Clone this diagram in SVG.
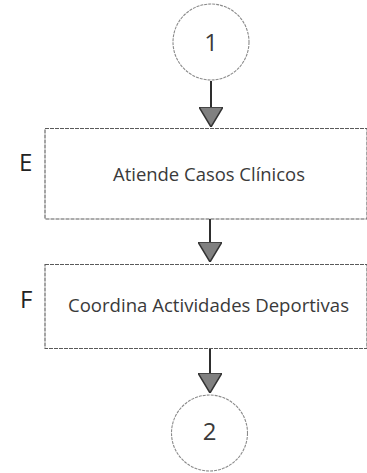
<svg xmlns="http://www.w3.org/2000/svg" width="367" height="473" viewBox="0 0 367 473">
<defs>
<style>
.bg{fill:#ffffff}
.conn{fill:none;stroke:#2e2e2e;stroke-width:2}
.circle{fill:#ffffff;stroke:#8a8a8a;stroke-width:1.1;stroke-dasharray:3 1}
.box{fill:#ffffff;stroke:#5a5a5a;stroke-width:1.1;stroke-dasharray:4 1}
.lbl{font-family:"Open Sans","Noto Sans","Liberation Sans",sans-serif;fill:#3a3a3a;font-size:18px;text-anchor:middle}
.num{font-family:"Open Sans","Noto Sans","Liberation Sans",sans-serif;fill:#3a3a3a;font-size:24px;text-anchor:middle}
.lane{font-family:"Open Sans","Noto Sans","Liberation Sans",sans-serif;fill:#222222;font-size:24px}
</style>
<marker id="arrow" viewBox="0 0 20 24" refX="20" refY="12" markerWidth="20" markerHeight="24" markerUnits="userSpaceOnUse" orient="auto">
<path d="M0,0 L20,12 L0,24 Z" fill="#808080" stroke="#333333" stroke-width="1.5" stroke-linejoin="round"/>
</marker>
</defs>
<rect class="bg" x="0" y="0" width="367" height="473"/>
<g id="connectors">
<line class="conn" x1="211" y1="81" x2="211" y2="127" marker-end="url(#arrow)"/>
<line class="conn" x1="210" y1="219" x2="210" y2="262" marker-end="url(#arrow)"/>
<line class="conn" x1="210" y1="348.5" x2="210" y2="393" marker-end="url(#arrow)"/>
</g>
<g id="node-1">
<circle class="circle" cx="211" cy="42" r="38"/>
<text class="num" x="211" y="51">1</text>
</g>
<g id="node-E">
<text class="lane" x="19" y="171">E</text>
<rect class="box" x="45" y="128.5" width="322" height="90.5"/>
<text class="lbl" x="209" y="181" textLength="192" lengthAdjust="spacingAndGlyphs">Atiende Casos Clínicos</text>
</g>
<g id="node-F">
<text class="lane" x="20" y="308">F</text>
<rect class="box" x="45" y="264.5" width="322" height="84"/>
<text class="lbl" x="208.5" y="312" textLength="281" lengthAdjust="spacingAndGlyphs">Coordina Actividades Deportivas</text>
</g>
<g id="node-2">
<circle class="circle" cx="209.5" cy="433" r="38"/>
<text class="num" x="209.5" y="440">2</text>
</g>
</svg>
